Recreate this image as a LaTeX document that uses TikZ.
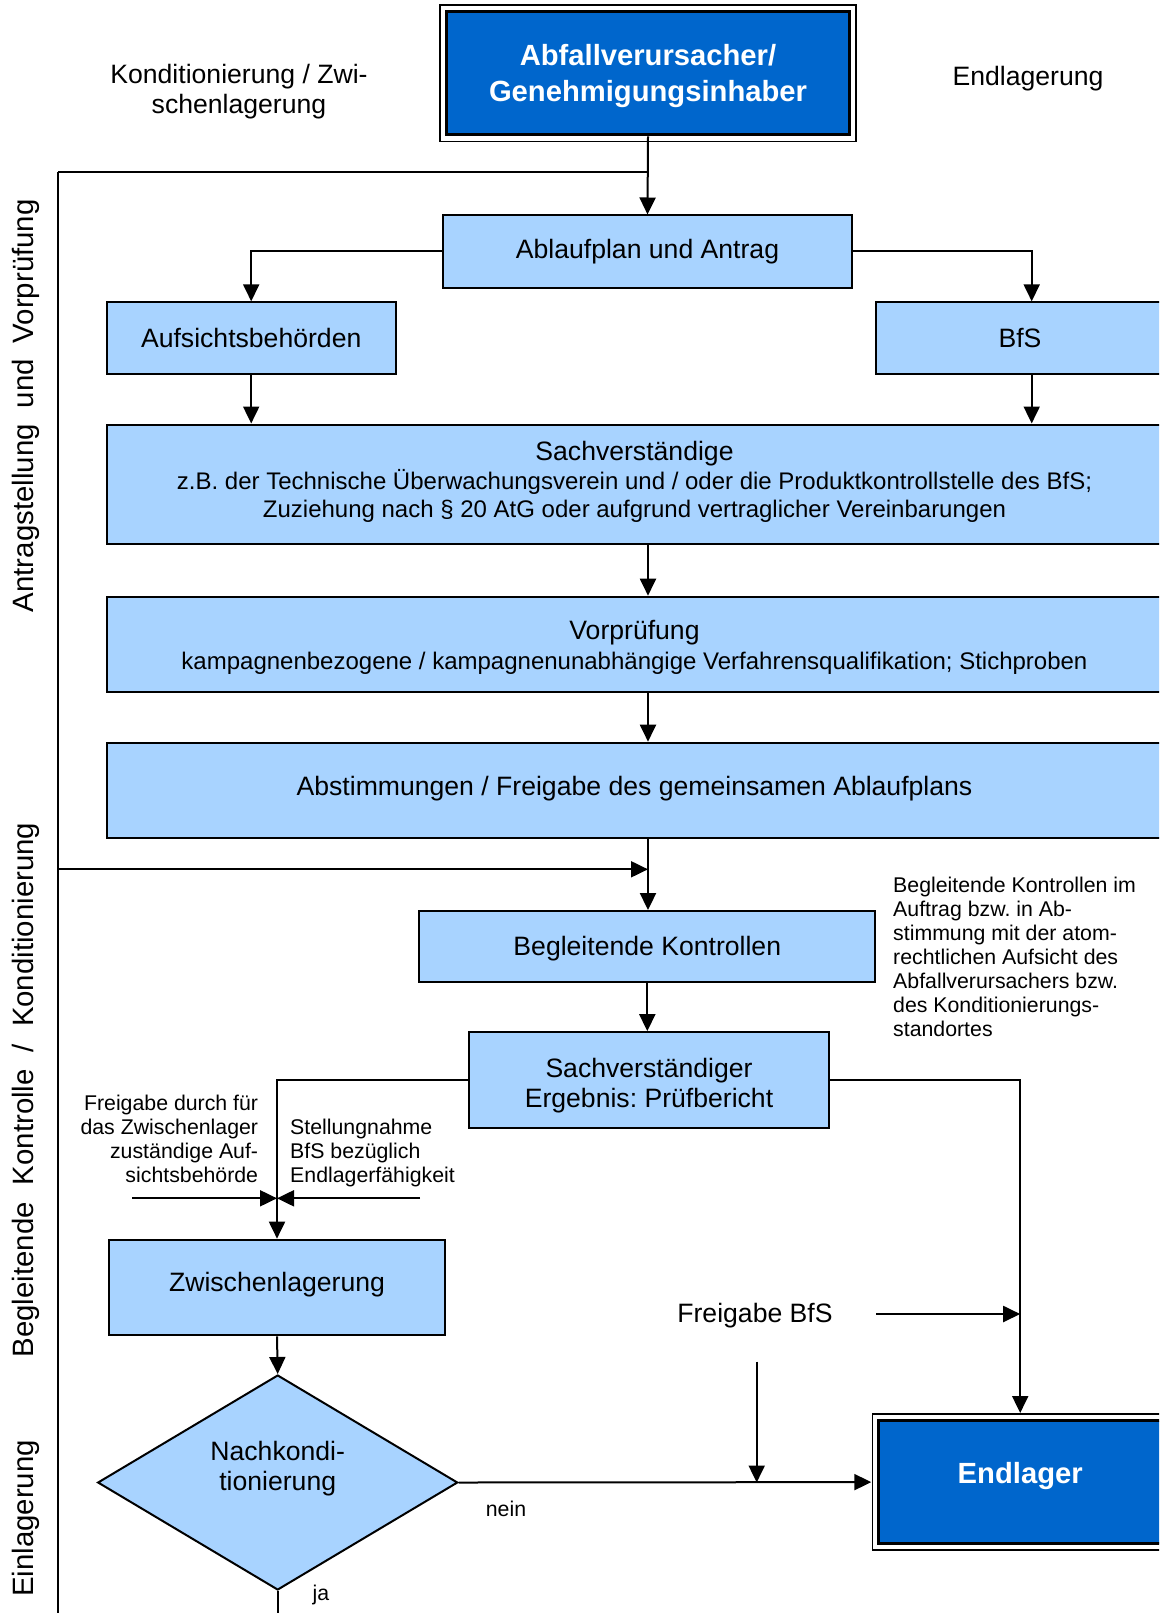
\documentclass[tikz,border=0pt]{standalone}
\usepackage{fontspec}
\setmainfont{Liberation Sans}
\usetikzlibrary{arrows.meta,shapes.geometric}
\definecolor{lblue}{HTML}{A8D3FF}
\definecolor{dblue}{HTML}{0066CC}
\newcommand\fmain{\fontsize{26.6pt}{30pt}\selectfont}
\newcommand\fsmall{\fontsize{21.3pt}{24pt}\selectfont}
\newcommand\fsubt{\fontsize{24pt}{27pt}\selectfont}
\newcommand\fboldt{\fontsize{29.2pt}{36pt}\selectfont\bfseries}
\newcommand\fside{\fontsize{29.4pt}{34pt}\selectfont}
\frenchspacing
\tikzset{
  lbox/.style={draw=black, fill=lblue, line width=2pt, inner sep=0pt, align=center, font=\fmain},
  dbox/.style={draw=black, fill=dblue, line width=3pt, inner sep=0pt, align=center, text=white, font=\fboldt},
  frame/.style={draw=black, line width=1.5pt},
  conn/.style={line width=2pt},
  arr/.style={line width=2pt, -{Triangle[width=16pt,length=17pt]}},
  plain/.style={inner sep=0pt, font=\fmain},
  btext/.style={inner sep=0pt, align=center, text=white, font=\fboldt},
  small/.style={inner sep=0pt, font=\fsmall},
  side/.style={inner sep=0pt, font=\fside, rotate=90, anchor=base}
}
\begin{document}
\frenchspacing
\begin{tikzpicture}[x=1pt,y=-1pt]
\useasboundingbox (0,0) rectangle (1159,1613);
\clip (0,0) rectangle (1159,1613);

% header
\node[dbox, minimum width=403pt, minimum height=123.3pt] (top) at (648,73.3) {};
\node[btext] (topt) at (648,76.5) {Abfallverursacher/\\Genehmigungsinhaber};
\draw[frame] ([xshift=-5pt,yshift=5pt]top.north west) rectangle ([xshift=5pt,yshift=-5pt]top.south east);
\node[plain, align=center] (kz) at (239,92) {Konditionierung / Zwi-\\schenlagerung};
\node[plain] (el_lbl) at (1028,79) {Endlagerung};

% side labels
\node[side] (s1) at (33,405.7) {Antragstellung\hspace{16pt}und\hspace{16pt}Vorprüfung};
\node[side] (s2) at (33,1090) {Begleitende\hspace{17pt}Kontrolle\hspace{17pt}/\hspace{17pt}Konditionierung};
\node[side] (s3) at (33,1518.5) {Einlagerung};

% boxes
\node[lbox, minimum width=408.5pt, minimum height=72pt] (ablauf) at (647.5,251.5) {Ablaufplan und Antrag};
\node[lbox, minimum width=289pt, minimum height=71.7pt] (aufs) at (251.2,338.2) {Aufsichtsbehörden};
\node[lbox, minimum width=288.6pt, minimum height=71.7pt] (bfs) at (1020,338.2) {BfS};
\node[lbox, minimum width=1055.6pt, minimum height=119.8pt] (sv) at (634.5,484.4) {};
\node[plain, align=center] (svt) at (634.5,481.8)
  {Sachverständige\\[-1pt]\fsubt z.B. der Technische Überwachungsverein und / oder die Produktkontrollstelle des BfS;\\[-1.5pt]\fsubt Zuziehung nach § 20 AtG oder aufgrund vertraglicher Vereinbarungen};
\node[lbox, minimum width=1055.6pt, minimum height=95.6pt] (vp) at (634.5,644.5) {};
\node[plain, align=center] (vpt) at (634.5,647.5)
  {Vorprüfung\\\fsubt kampagnenbezogene / kampagnenunabhängige Verfahrensqualifikation; Stichproben};
\node[lbox, minimum width=1055.6pt, minimum height=95.6pt] (ab) at (634.5,790.5) {};
\node[plain] (abt) at (634.5,788.5) {Abstimmungen / Freigabe des gemeinsamen Ablaufplans};
\node[lbox, minimum width=456pt, minimum height=71.3pt] (bk) at (647.3,946.7) {};
\node[plain] (bkt) at (647.3,948.7) {Begleitende Kontrollen};
\node[lbox, minimum width=360pt, minimum height=95.7pt] (sr) at (649,1080) {};
\node[plain, align=center] (srt) at (649,1086) {Sachverständiger\\Ergebnis: Prüfbericht};
\node[lbox, minimum width=336pt, minimum height=95.7pt] (zw) at (277,1287.5) {};
\node[plain] (zwt) at (277,1284.5) {Zwischenlagerung};
\node[draw=black, fill=lblue, line width=2pt, diamond, inner sep=0pt, minimum width=360pt, minimum height=215pt] (dia) at (277.7,1482.5) {};
\node[plain, align=center] (diat) at (277.7,1468.5) {Nachkondi-\\tionierung};
\node[dbox, minimum width=282.8pt, minimum height=123.2pt, text depth=19pt] (el) at (1020.2,1482.1) {Endlager};
\draw[frame] ([xshift=-5pt,yshift=5pt]el.north west) rectangle ([xshift=5pt,yshift=-5pt]el.south east);

% annotations
\node[small, align=left, anchor=north west] (ann) at (893,877) {Begleitende Kontrollen im\\Auftrag bzw. in Ab-\\stimmung mit der atom-\\rechtlichen Aufsicht des\\Abfallverursachers bzw.\\des Konditionierungs-\\standortes};
\node[small, align=right, anchor=north east] (fg) at (258.3,1095) {Freigabe durch für\\das Zwischenlager\\zuständige Auf-\\sichtsbehörde};
\node[small, align=left, anchor=north west] (st) at (290,1118.5) {Stellungnahme\\BfS bezüglich\\Endlagerfähigkeit};
\node[plain] (fbfs) at (755,1316) {Freigabe BfS};
\node[small] (nein) at (506,1509) {nein};
\node[small] (ja) at (321,1595) {ja};

% coordinates
\coordinate (ltop) at (58.3,172.3);
\coordinate (lbot) at (58.3,1620);
\coordinate (lmid) at (58.3,869.3);
\coordinate (fgs) at (132.3,1198.3);
\coordinate (sts) at (420,1198.3);
\coordinate (fbs) at (876,1314);
\coordinate (fbv) at (756.7,1361.7);
\coordinate (diab) at (277.7,1620);

% connectors
\draw[conn] (ltop) -- (lbot);
\draw[conn] (ltop) -- (top.south |- ltop);
\draw[arr] (top.south) -- (ablauf.north);
\draw[arr] (ablauf.west) -| (aufs.north);
\draw[arr] (ablauf.east) -| ([xshift=11.7pt]bfs.north);
\draw[arr] (aufs.south) -- (aufs.south |- sv.north);
\draw[arr] ([xshift=11.7pt]bfs.south) -- ([xshift=11.7pt]bfs.south |- sv.north);
\draw[arr] (top.south |- sv.south) -- (top.south |- vp.north);
\draw[arr] (top.south |- vp.south) -- (top.south |- ab.north);
\draw[arr] (top.south |- ab.south) -- (top.south |- bk.north);
\draw[arr] (lmid) -- (top.south |- lmid);
\draw[arr] (bk.south) -- (bk.south |- sr.north);
\draw[arr] (sr.west) -| (zw.north);
\draw[arr] (fgs) -- (zw.north |- fgs);
\draw[arr] (sts) -- (zw.north |- sts);
\draw[arr] (sr.east) -| ([yshift=6pt]el.north);
\draw[arr] (fbs) -- (el.north |- fbs);
\draw[arr] (zw.south) -- (dia.north);
\draw[conn] (dia.south) -- (diab);
\draw[arr] (dia.east) -- ([xshift=-6pt]el.west);
\draw[arr] (fbv) -- (fbv |- dia.east);
\end{tikzpicture}
\end{document}
